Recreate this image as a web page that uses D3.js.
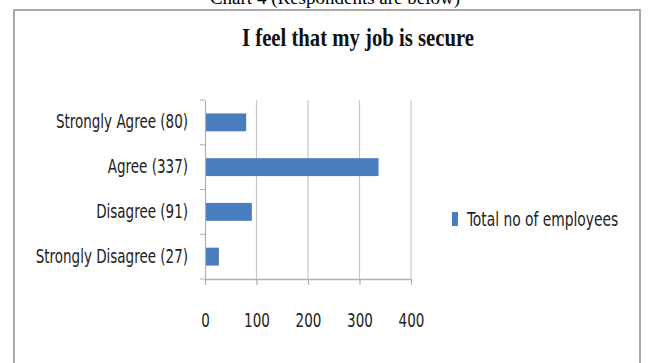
<!DOCTYPE html>
<html>
<head>
<meta charset="utf-8">
<script src="https://cdn.jsdelivr.net/npm/d3@7"></script>
<style>
  html, body { margin: 0; padding: 0; background: #fff; }
  svg { display: block; }
</style>
</head>
<body>
<div id="chart"></div>
<script>
// data
var categories = ["Strongly Agree (80)", "Agree (337)", "Disagree (91)", "Strongly Disagree (27)"];
var employees = [80, 337, 91, 27];
var xTicks = [0, 100, 200, 300, 400];
var seriesName = "Total no of employees";
var chartTitle = "I feel that my job is secure";

const W = 648, H = 363;
const BAR_COLOR = "#4a7dbd";
const LABEL_FONT = "'DejaVu Sans Condensed', 'Open Sans', sans-serif";
const SQUEEZE = 0.79;

// narrow the labels so they look like the condensed font of the original
function squeeze(sel, k) {
    sel.each(function () {
        var t = d3.select(this);
        var x0 = +t.attr("x") || 0;
        t.attr("x", x0 / k).attr("transform", "scale(" + k + ",1)");
    });
}

var svg = d3.select("#chart").append("svg")
    .attr("width", W)
    .attr("height", H);

// clipped caption above the frame
svg.append("text")
    .attr("x", 335)
    .attr("y", 4)
    .attr("text-anchor", "middle")
    .style("font-family", "Liberation Serif")
    .style("font-size", "19px")
    .text("Chart 4       (Respondents are below)");

// outer frame
svg.append("rect")
    .attr("x", 14)
    .attr("y", 10)
    .attr("width", 626)
    .attr("height", H)
    .attr("fill", "#fff")
    .attr("stroke", "#a8a8a8")
    .attr("stroke-width", 2);

svg.append("text")
    .attr("x", 358)
    .attr("y", 46)
    .attr("text-anchor", "middle")
    .attr("textLength", 232)
    .attr("lengthAdjust", "spacingAndGlyphs")
    .style("font-family", "Liberation Serif")
    .style("font-weight", "bold")
    .style("font-size", "26px")
    .style("fill", "#111")
    .text(chartTitle);

var x = d3.scaleLinear()
    .domain([0, 400])
    .range([205, 411]);

var y = d3.scaleBand()
    .domain(categories)
    .range([100, 279])
    .paddingInner(0.6)
    .paddingOuter(0.3);

// gridlines
svg.append("g")
    .selectAll("line")
    .data(xTicks.filter(d => d > 0))
    .enter()
    .append("line")
    .attr("x1", d => x(d))
    .attr("x2", d => x(d))
    .attr("y1", 100)
    .attr("y2", 279)
    .attr("stroke", "#c8c8c8")
    .attr("stroke-width", 1.2);

// bars
svg.append("g")
    .selectAll("rect")
    .data(employees)
    .enter()
    .append("rect")
    .attr("x", x(0))
    .attr("y", (d, i) => y(categories[i]))
    .attr("width", d => x(d) - x(0))
    .attr("height", y.bandwidth())
    .attr("fill", BAR_COLOR);

// x axis
var xAxis = svg.append("g")
    .attr("transform", "translate(0,279)")
    .call(d3.axisBottom(x).tickValues(xTicks).tickSize(6).tickPadding(29).tickSizeOuter(0));
xAxis.select(".domain").attr("stroke", "#b0b0b0").attr("stroke-width", 1.5);
xAxis.selectAll(".tick line").attr("stroke", "#b0b0b0").attr("stroke-width", 1.2);
xAxis.selectAll(".tick text")
    .style("font-family", LABEL_FONT)
    .style("font-size", "19px")
    .style("fill", "#222")
    .call(squeeze, SQUEEZE);

// y axis
var yAxis = svg.append("g")
    .attr("transform", "translate(205,0)")
    .call(d3.axisLeft(y).tickSize(0).tickPadding(17).tickSizeOuter(0));
yAxis.select(".domain").attr("stroke", "#b0b0b0").attr("stroke-width", 1.2);
yAxis.selectAll(".tick text")
    .style("font-family", LABEL_FONT)
    .style("font-size", "19px")
    .style("fill", "#222")
    .call(squeeze, SQUEEZE);

// category boundary ticks
svg.append("g")
    .selectAll("line")
    .data(d3.range(categories.length + 1))
    .enter()
    .append("line")
    .attr("x1", 200)
    .attr("x2", 205)
    .attr("y1", i => 100 + i * (179 / categories.length))
    .attr("y2", i => 100 + i * (179 / categories.length))
    .attr("stroke", "#b0b0b0");

// legend
var legend = svg.append("g").attr("transform", "translate(452,212)");
legend.append("rect")
    .attr("width", 6)
    .attr("height", 14)
    .attr("fill", BAR_COLOR);
legend.append("text")
    .attr("x", 15)
    .attr("y", 14)
    .style("font-family", LABEL_FONT)
    .style("font-size", "19px")
    .style("fill", "#222")
    .text(seriesName)
    .call(squeeze, 0.81);
</script>
</body>
</html>
